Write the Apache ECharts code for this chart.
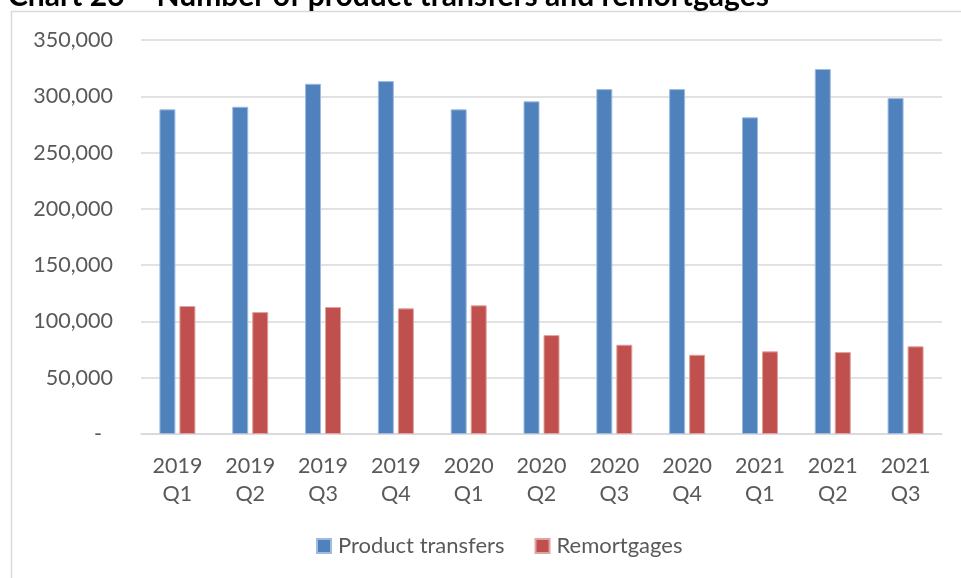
<!DOCTYPE html>
<html>
<head>
<meta charset="utf-8">
<script src="https://cdn.jsdelivr.net/npm/echarts@6/dist/echarts.min.js"></script>
<style>
  html, body { margin: 0; padding: 0; background: #fff; }
  #chart { width: 961px; height: 578px; }
</style>
</head>
<body>
<div id="chart"></div>
<script>
// 季度类目
var quarters = ['2019\nQ1', '2019\nQ2', '2019\nQ3', '2019\nQ4', '2020\nQ1', '2020\nQ2',
                '2020\nQ3', '2020\nQ4', '2021\nQ1', '2021\nQ2', '2021\nQ3'];
// 两个系列的数值
var productTransfers = [288400, 290700, 311100, 313500, 288400, 295500, 306400, 306400, 281300, 324200, 298400];
var remortgages = [113700, 108300, 112800, 111600, 114300, 87900, 79300, 70400, 73400, 72800, 77900];
var seriesNames = ['Product transfers', 'Remortgages'];
var titleText = 'Chart 26 \u2013 Number of product transfers and remortgages';

var chart = echarts.init(document.getElementById('chart'));
var font = 'Lato, "Open Sans", sans-serif';

var option = {
  animation: false,
  color: ['#4F81BD', '#C0504D'],
  title: {
    text: titleText,
    left: 3,
    top: -24,
    textStyle: { fontFamily: font, fontSize: 30, fontWeight: 'bold', color: '#000' }
  },
  graphic: [{
    type: 'rect',
    shape: { x: 11.5, y: 11.5, width: 1000, height: 1000 },
    style: { fill: 'none', stroke: '#d9d9d9', lineWidth: 1.5 },
    silent: true
  }],
  legend: {
    data: seriesNames,
    bottom: 16,
    left: 311,
    itemWidth: 14,
    itemHeight: 14,
    itemGap: 30,
    icon: 'rect',
    textStyle: { fontFamily: font, fontSize: 22, color: '#595959', padding: [0, 0, 0, 2] }
  },
  grid: { left: 141, right: 19, top: 40, bottom: 144 },
  xAxis: {
    type: 'category',
    data: quarters,
    axisTick: { show: false },
    axisLine: { lineStyle: { color: '#d9d9d9', width: 1.5 } },
    axisLabel: {
      fontFamily: font, fontSize: 21.5, color: '#595959',
      lineHeight: 28, margin: 18, interval: 0
    }
  },
  yAxis: {
    type: 'value',
    min: 0,
    max: 350000,
    interval: 50000,
    axisLine: { show: false },
    axisTick: { show: false },
    splitLine: { lineStyle: { color: '#d9d9d9', width: 1.5 } },
    axisLabel: {
      fontFamily: font, fontSize: 21.5, color: '#595959', margin: 28,
      formatter: function (v) {
        return v === 0 ? '-  ' : v.toLocaleString('en-US');
      }
    }
  },
  series: [
    {
      name: seriesNames[0],
      type: 'bar',
      data: productTransfers,
      barWidth: 16,
      barGap: '25%',
      itemStyle: { borderColor: '#9fbbe0', borderWidth: 1 }
    },
    {
      name: seriesNames[1],
      type: 'bar',
      data: remortgages,
      barWidth: 16,
      barGap: '25%',
      itemStyle: { borderColor: '#e0a3a1', borderWidth: 1 }
    }
  ]
};

chart.setOption(option);
</script>
</body>
</html>
